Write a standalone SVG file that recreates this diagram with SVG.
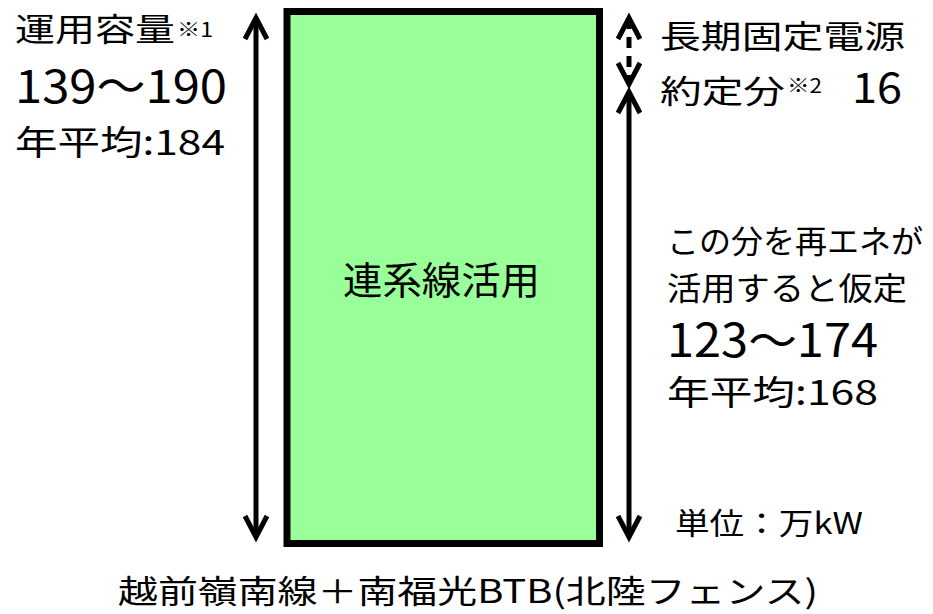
<svg xmlns="http://www.w3.org/2000/svg" width="933" height="614" viewBox="0 0 933 614">
<style>
text{font-family:"Noto Sans CJK JP","Noto Sans",sans-serif;fill:#000;}
.arr{stroke:#000;stroke-width:5;fill:none;}
</style>
<defs>
<marker id="ah" markerUnits="userSpaceOnUse" markerWidth="40" markerHeight="40" viewBox="-30 -20 40 40" refX="0" refY="0" orient="auto-start-reverse" overflow="visible">
<path d="M-21,-11 L0,0 L-21,11" fill="none" stroke="#000" stroke-width="5" stroke-linejoin="miter"/>
</marker>
</defs>
<rect width="933" height="614" fill="#fff"/>
<g id="box">
<rect x="287" y="11.5" width="312.5" height="532" fill="#99FF99" stroke="#000" stroke-width="7"/>
<text x="343" y="294" font-size="38" textLength="197" lengthAdjust="spacingAndGlyphs">連系線活用</text>
</g>
<g id="connectors">
<line class="arr" x1="256" y1="18" x2="256" y2="537" marker-start="url(#ah)" marker-end="url(#ah)"/>
<line class="arr" x1="629" y1="92" x2="629" y2="537" marker-start="url(#ah)" marker-end="url(#ah)"/>
<line class="arr" x1="629" y1="18" x2="629" y2="84" stroke-dasharray="11 8" marker-start="url(#ah)" marker-end="url(#ah)"/>
</g>
<g id="left-label">
<text x="15" y="41" font-size="32" textLength="160" lengthAdjust="spacingAndGlyphs">運用容量</text>
<text x="177" y="37" font-size="20" textLength="36" lengthAdjust="spacingAndGlyphs">※1</text>
<text x="15" y="103" font-size="45" textLength="212" lengthAdjust="spacingAndGlyphs">139～190</text>
<text x="15" y="155" font-size="34" textLength="210" lengthAdjust="spacingAndGlyphs">年平均:184</text>
</g>
<g id="fixed-label">
<text x="660" y="48" font-size="32" textLength="245" lengthAdjust="spacingAndGlyphs">長期固定電源</text>
<text x="660" y="103" font-size="32" textLength="125" lengthAdjust="spacingAndGlyphs">約定分</text>
<text x="787" y="93" font-size="20" textLength="35" lengthAdjust="spacingAndGlyphs">※2</text>
<text x="852" y="103" font-size="42" textLength="50" lengthAdjust="spacingAndGlyphs">16</text>
</g>
<g id="renewable-label">
<text x="667" y="253" font-size="32" textLength="256" lengthAdjust="spacingAndGlyphs">この分を再エネが</text>
<text x="667" y="300" font-size="32" textLength="240" lengthAdjust="spacingAndGlyphs">活用すると仮定</text>
<text x="667" y="357" font-size="46" textLength="211" lengthAdjust="spacingAndGlyphs">123～174</text>
<text x="667" y="405" font-size="34" textLength="211" lengthAdjust="spacingAndGlyphs">年平均:168</text>
</g>
<g id="unit">
<text x="675" y="534" font-size="30" textLength="188" lengthAdjust="spacingAndGlyphs">単位：万kW</text>
</g>
<g id="caption">
<text x="118" y="603" font-size="32" textLength="700" lengthAdjust="spacingAndGlyphs">越前嶺南線＋南福光BTB(北陸フェンス)</text>
</g>
</svg>
